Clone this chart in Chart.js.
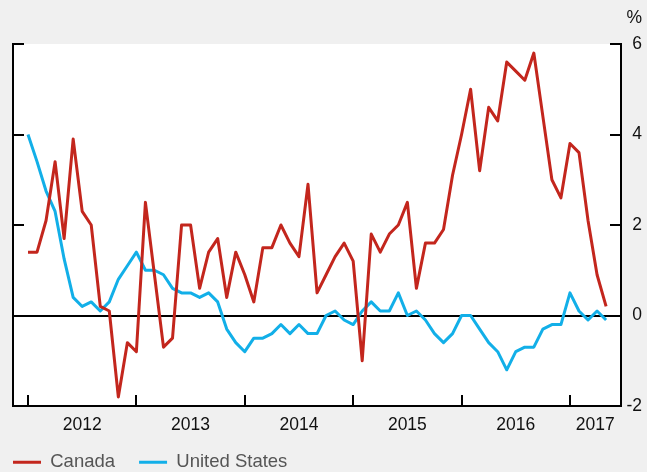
<!DOCTYPE html>
<html>
<head>
<meta charset="utf-8">
<script src="https://cdn.jsdelivr.net/npm/chart.js@4/dist/chart.umd.min.js"></script>
<style>
  html, body { margin: 0; padding: 0; background: #f0f0f0; }
  #wrap { width: 647px; height: 472px; }
</style>
</head>
<body>
<div id="wrap"><canvas id="c" width="647" height="472"></canvas></div>
<script>
// Monthly observations, January 2012 – May 2017
const months = [];
for (let yr = 2012; yr <= 2017; yr++) {
  for (let m = 1; m <= 12; m++) {
    if (yr === 2017 && m > 5) break;
    months.push(yr + '-' + String(m).padStart(2, '0'));
  }
}

const canada = [
  1.4, 1.4, 2.1, 3.4, 1.7, 3.9, 2.3, 2.0, 0.2, 0.1, -1.8, -0.6,
  -0.8, 2.5, 0.9, -0.7, -0.5, 2.0, 2.0, 0.6, 1.4, 1.7, 0.4, 1.4,
  0.9, 0.3, 1.5, 1.5, 2.0, 1.6, 1.3, 2.9, 0.5, 0.9, 1.3, 1.6,
  1.2, -1.0, 1.8, 1.4, 1.8, 2.0, 2.5, 0.6, 1.6, 1.6, 1.9, 3.1,
  4.0, 5.0, 3.2, 4.6, 4.3, 5.6, 5.4, 5.2, 5.8, 4.4, 3.0, 2.6,
  3.8, 3.6, 2.1, 0.9, 0.2
];

const unitedStates = [
  4.0, 3.4, 2.75, 2.3, 1.25, 0.4, 0.2, 0.3, 0.1, 0.3, 0.8, 1.1,
  1.4, 1.0, 1.0, 0.9, 0.6, 0.5, 0.5, 0.4, 0.5, 0.3, -0.3, -0.6,
  -0.8, -0.5, -0.5, -0.4, -0.2, -0.4, -0.2, -0.4, -0.4, 0.0, 0.1, -0.1,
  -0.2, 0.1, 0.3, 0.1, 0.1, 0.5, 0.0, 0.1, -0.1, -0.4, -0.6, -0.4,
  0.0, 0.0, -0.3, -0.6, -0.8, -1.2, -0.8, -0.7, -0.7, -0.3, -0.2, -0.2,
  0.5, 0.1, -0.1, 0.1, -0.1
];

const yearLabels = ['2012', '2013', '2014', '2015', '2016', '2017'];
const yearLabelPos = [6, 18, 30, 42, 54, 62.8];   // month index where each year label sits
const yearStartIdx = [0, 12, 24, 36, 48, 60];     // month index of each January (tick marks)
const yTickValues = [-2, 0, 2, 4, 6];

const RED = '#c3261d';
const BLUE = '#12afe8';
const FONT = "'Liberation Sans', Arial, Helvetica, sans-serif";

const bgPlugin = {
  id: 'bg',
  beforeDraw(chart) {
    const { ctx, chartArea: a } = chart;
    ctx.save();
    ctx.fillStyle = '#f0f0f0';
    ctx.fillRect(0, 0, chart.width, chart.height);
    ctx.fillStyle = '#ffffff';
    ctx.fillRect(a.left, a.top, a.right - a.left, a.bottom - a.top);
    ctx.restore();
  }
};

const inwardTicks = {
  id: 'inwardTicks',
  beforeDatasetsDraw(chart) {
    const { ctx, chartArea: a, scales } = chart;
    const x = scales.x, y = scales.y;
    ctx.save();
    ctx.strokeStyle = '#000';
    ctx.lineWidth = 2;
    ctx.beginPath();
    yTickValues.forEach(v => {
      const py = Math.round(y.getPixelForValue(v));
      ctx.moveTo(a.left, py); ctx.lineTo(a.left + 11, py);
      ctx.moveTo(a.right - 11, py); ctx.lineTo(a.right, py);
    });
    yearStartIdx.forEach(v => {
      const px = Math.round(x.getPixelForValue(v));
      ctx.moveTo(px, a.bottom); ctx.lineTo(px, a.bottom - 11);
    });
    ctx.stroke();
    ctx.restore();
  }
};

const legendPlacer = {
  id: 'legendPlacer',
  afterLayout(chart) {
    const lg = chart.legend;
    if (lg) {
      lg.left = 13 - 24;
      lg.top = 429;
    }
  }
};

const toPoints = arr => arr.map((v, i) => ({ x: i, y: v }));

new Chart(document.getElementById('c'), {
  type: 'line',
  data: {
    labels: months,
    datasets: [
      { label: 'Canada', data: toPoints(canada), borderColor: RED, backgroundColor: RED,
        borderWidth: 3, pointRadius: 0, tension: 0, borderJoinStyle: 'round', fill: false },
      { label: 'United States', data: toPoints(unitedStates), borderColor: BLUE, backgroundColor: BLUE,
        borderWidth: 3, pointRadius: 0, tension: 0, borderJoinStyle: 'round', fill: false }
    ]
  },
  options: {
    responsive: false,
    animation: false,
    devicePixelRatio: 1,
    layout: { padding: { left: 0, right: 5, top: 0, bottom: 0 } },
    plugins: {
      title: {
        display: true, text: '%', align: 'end', position: 'top', color: '#111',
        font: { family: FONT, size: 17.5, weight: 'normal' },
        padding: { top: 8, bottom: 15 }
      },
      legend: {
        display: true, position: 'bottom', align: 'start', maxHeight: 36,
        labels: {
          boxWidth: 28, boxHeight: 3, padding: 24, color: '#555',
          font: { family: FONT, size: 18.5 },
          generateLabels(chart) {
            return chart.data.datasets.map((d, i) => ({
              text: d.label, fillStyle: d.borderColor, strokeStyle: d.borderColor,
              lineWidth: 0, hidden: false, datasetIndex: i, fontColor: '#555'
            }));
          }
        }
      },
      tooltip: { enabled: false }
    },
    scales: {
      x: {
        type: 'linear', position: 'bottom',
        min: -1.66, max: 65.65,
        afterFit(s) { s.height = 30; },
        afterBuildTicks(s) { s.ticks = yearLabelPos.map(v => ({ value: v })); },
        ticks: {
          autoSkip: false, maxRotation: 0, padding: 9, color: '#111',
          font: { family: FONT, size: 17.5 },
          callback(value, index) { return yearLabels[index]; }
        },
        grid: { display: false, drawTicks: false },
        border: { display: true, color: '#000', width: 2 }
      },
      yL: {
        type: 'linear', position: 'left', min: -2, max: 6,
        afterFit(s) { s.width = 13; },
        ticks: { display: false },
        grid: { display: false, drawTicks: false },
        border: { display: true, color: '#000', width: 2 }
      },
      y: {
        type: 'linear', position: 'right', min: -2, max: 6,
        afterFit(s) { s.width = 21; },
        afterBuildTicks(s) { s.ticks = yTickValues.map(v => ({ value: v })); },
        ticks: {
          padding: 5, crossAlign: 'far', color: '#111',
          font: { family: FONT, size: 17.5 }
        },
        grid: {
          drawOnChartArea: true, drawTicks: false, lineWidth: 2,
          color: ctx => (ctx.tick && ctx.tick.value === 0 ? '#000' : 'rgba(0,0,0,0)')
        },
        border: { display: true, color: '#000', width: 2 }
      }
    }
  },
  plugins: [bgPlugin, inwardTicks, legendPlacer]
});
</script>
</body>
</html>
